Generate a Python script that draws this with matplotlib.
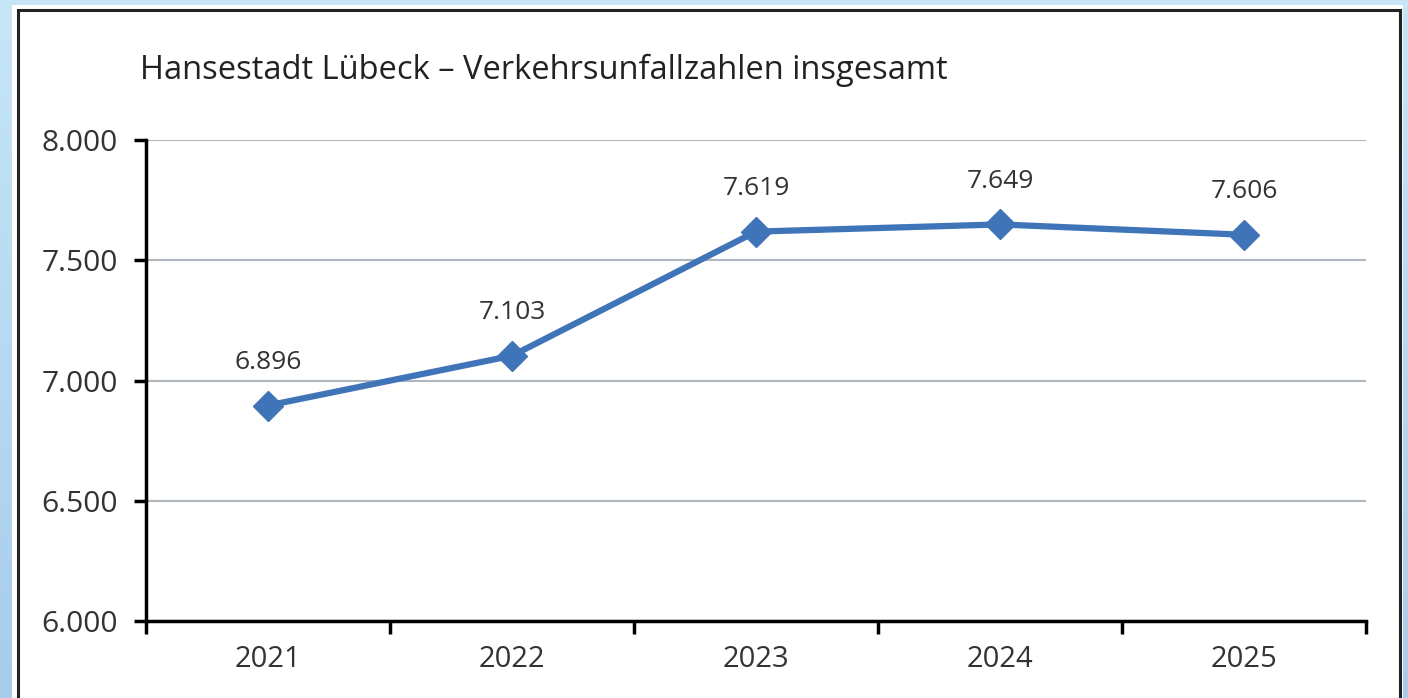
import matplotlib.pyplot as plt
import numpy as np
from matplotlib.patches import Rectangle

# data
years = ['2021', '2022', '2023', '2024', '2025']
unfaelle = [6896, 7103, 7619, 7649, 7606]
y_ticks = [6000, 6500, 7000, 7500, 8000]

def de_format(v):
    return '{:,.0f}'.format(v).replace(',', '.')

plt.rcParams['font.family'] = ['Open Sans', 'DejaVu Sans']

fig = plt.figure(figsize=(14.08, 6.98), dpi=100)

# light blue background with slight gradient on the left edge
bg = fig.add_axes([0, 0, 1, 1], zorder=-10)
grad = np.linspace(0, 1, 200).reshape(-1, 1)
top = np.array([0.78, 0.90, 0.97])
bottom = np.array([0.66, 0.80, 0.92])
img = top + (bottom - top) * grad[:, :, None]
bg.imshow(img, aspect='auto', extent=[0, 1, 0, 1], origin='upper')
bg.add_patch(Rectangle((12 / 1408, 0), (1403 - 12) / 1408, 1 - 5 / 698,
                       facecolor='white', edgecolor='none'))
bg.add_patch(Rectangle((18 / 1408, -0.01), (1400 - 18) / 1408, 1 - 10 / 698 + 0.01,
                       facecolor='none', edgecolor='#222222', linewidth=2.2))
bg.set_xlim(0, 1)
bg.set_ylim(0, 1)
bg.axis('off')

ax = fig.add_axes([146 / 1408, 1 - 621 / 698, (1366 - 146) / 1408, (621 - 140) / 698])
ax.set_facecolor('none')
x = np.arange(len(years))
ax.plot(x, unfaelle, color='#3f74b8', linewidth=4.5, marker='D', markersize=15,
        solid_capstyle='round', zorder=3)
for xi, v in zip(x, unfaelle):
    ax.annotate(de_format(v), (xi, v), xytext=(0, 22), textcoords='offset points',
                ha='center', va='bottom', fontsize=19, color='#333333')

ax.set_xlim(-0.5, len(years) - 0.5)
ax.set_ylim(6000, 8000)
ax.set_yticks(y_ticks)
ax.set_yticklabels([de_format(v) for v in y_ticks], fontsize=21.5, color='#333333')
ax.set_xticks(x)
ax.set_xticklabels(years, fontsize=21, color='#333333')
ax.set_xticks(np.arange(-0.5, len(years)), minor=True)
ax.tick_params(axis='x', which='major', length=0, pad=17)
ax.tick_params(axis='x', which='minor', length=9, width=2.5, direction='out')
ax.tick_params(axis='y', length=9, width=2.5, direction='out', pad=11.5)

ax.grid(axis='y', color='#b0b6bd', linewidth=1.5)
ax.set_axisbelow(True)
for s in ['top', 'right']:
    ax.spines[s].set_visible(False)
ax.spines['left'].set_linewidth(2.5)
ax.spines['bottom'].set_linewidth(2.5)

fig.text(140 / 1408, 1 - 79 / 698, 'Hansestadt Lübeck – Verkehrsunfallzahlen insgesamt',
         fontsize=23.5, fontweight='medium', color='#222222', va='baseline', ha='left')

fig.savefig('out.png', dpi=100)
